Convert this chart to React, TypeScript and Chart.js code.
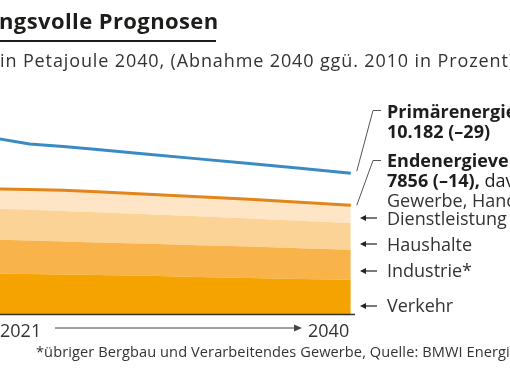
import React, { useEffect, useRef } from "react";
import { Chart, registerables } from "chart.js";
Chart.register(...registerables);

// Years on the linear x axis
const years = [2019, 2021, 2023, 2025, 2028, 2031, 2034, 2037, 2040];
// Primärenergieverbrauch (PJ)
const primaer = [12703, 12291, 12103, 11893, 11546, 11214, 10888, 10541, 10182];
// Endenergieverbrauch by sector (PJ), stacked bottom to top
const verkehr = [2915, 2885, 2856, 2827, 2762, 2675, 2596, 2538, 2480];
const industrie = [2465, 2429, 2393, 2350, 2314, 2299, 2277, 2220, 2169];
const haushalte = [2241, 2220, 2198, 2183, 2140, 2089, 2039, 1988, 1930];
const dienstleistung = [1424, 1468, 1497, 1475, 1439, 1417, 1388, 1338, 1280];

const axisLabels = ["2021", "2040"];

const FONT = '"Open Sans", sans-serif';

const xy = (vals: number[]) => vals.map((v, i) => ({ x: years[i], y: v }));

function Txt(props: { x: number; b: number; fs: number; w?: number; color?: string; ls?: number; children: React.ReactNode }) {
  const { x, b, fs, w = 400, color = "#222", ls = 0, children } = props;
  return (
    <div
      style={{
        position: "absolute",
        left: x,
        top: b - 0.888 * fs,
        fontSize: fs,
        lineHeight: `${fs}px`,
        fontWeight: w,
        letterSpacing: ls,
        whiteSpace: "nowrap",
        color,
        fontFamily: FONT,
      }}
    >
      {children}
    </div>
  );
}

const annotations = {
  id: "annotations",
  afterDraw(chart: any) {
    const ctx = chart.ctx;
    const a = chart.chartArea;
    ctx.save();
    // baseline
    ctx.strokeStyle = "#333";
    ctx.lineWidth = 1.5;
    ctx.beginPath();
    ctx.moveTo(0, a.bottom + 0.5);
    ctx.lineTo(a.right, a.bottom + 0.5);
    ctx.stroke();
    // leader lines
    ctx.strokeStyle = "#555";
    ctx.lineWidth = 1;
    const xs = chart.scales.x;
    const ys = chart.scales.y;
    const last = years.length - 1;
    const endX = xs.getPixelForValue(years[last]);
    const pY = ys.getPixelForValue(primaer[last]);
    const eY = ys.getPixelForValue(verkehr[last] + industrie[last] + haushalte[last] + dienstleistung[last]);
    ctx.beginPath();
    ctx.moveTo(endX + 6, pY - 2);
    ctx.lineTo(373, 110.5);
    ctx.lineTo(381, 110.5);
    ctx.moveTo(endX + 6, eY);
    ctx.lineTo(373, 160.5);
    ctx.lineTo(381, 160.5);
    ctx.stroke();
    // sector arrows
    ctx.strokeStyle = "#222";
    ctx.fillStyle = "#222";
    ctx.lineWidth = 1.2;
    for (const y of [218, 244, 271, 306]) {
      ctx.beginPath();
      ctx.moveTo(377, y);
      ctx.lineTo(364, y);
      ctx.stroke();
      ctx.beginPath();
      ctx.moveTo(360, y);
      ctx.lineTo(366, y - 3);
      ctx.lineTo(366, y + 3);
      ctx.closePath();
      ctx.fill();
    }
    // time arrow
    ctx.strokeStyle = "#444";
    ctx.fillStyle = "#444";
    ctx.lineWidth = 1;
    ctx.beginPath();
    ctx.moveTo(55, 328);
    ctx.lineTo(296, 328);
    ctx.stroke();
    ctx.beginPath();
    ctx.moveTo(302, 328);
    ctx.lineTo(294, 324.5);
    ctx.lineTo(294, 331.5);
    ctx.closePath();
    ctx.fill();
    ctx.restore();
  },
};

export default function App() {
  const ref = useRef<HTMLCanvasElement | null>(null);
  useEffect(() => {
    if (!ref.current) return;
    const area = (data: number[], color: string, fill: any, extra: any = {}) => ({
      data: xy(data),
      stack: "end",
      backgroundColor: color,
      borderWidth: 0,
      borderColor: "rgba(0,0,0,0)",
      pointRadius: 0,
      fill,
      tension: 0,
      ...extra,
    });
    const chart = new Chart(ref.current, {
      type: "line",
      data: {
        datasets: [
          {
            label: "Primärenergieverbrauch",
            data: xy(primaer),
            stack: "prim",
            borderColor: "#3a8ac4",
            borderWidth: 3,
            pointRadius: 0,
            fill: false,
            tension: 0,
          } as any,
          area(verkehr, "#f5a300", "origin"),
          area(industrie, "#f8b44a", "-1"),
          area(haushalte, "#fcd396", "-1"),
          area(dienstleistung, "#fde5c5", "-1", { borderColor: "#e2861c", borderWidth: 3 }),
        ],
      },
      options: {
        animation: false,
        responsive: false,
        layout: { padding: { left: 0, right: 155, top: 65, bottom: 55 } },
        plugins: { legend: { display: false }, tooltip: { enabled: false } },
        scales: {
          x: { type: "linear", min: 2019.25, max: 2040.25, display: false },
          y: { stacked: true, min: 0, max: 18000, display: false },
        },
      },
      plugins: [annotations],
    });
    return () => chart.destroy();
  }, []);

  return (
    <div style={{ position: "fixed", left: 0, top: 0, width: 510, height: 369, overflow: "hidden", background: "#fff" }}>
      <canvas ref={ref} width={510} height={369} style={{ position: "absolute", left: 0, top: 0 }} />
      <Txt x={-1} b={28.3} fs={22} w={700} ls={0.4} color="#1d1d1b">ngsvolle Prognosen</Txt>
      <div style={{ position: "absolute", left: 0, top: 40, width: 216, height: 2, background: "#1d1d1b" }} />
      <Txt x={0} b={66.7} fs={18} ls={0.88} color="#333">in Petajoule 2040, (Abnahme 2040 ggü. 2010 in Prozent)</Txt>
      <Txt x={387} b={117.5} fs={18} w={700} color="#1d1d1b">Primärenergieverbrauch</Txt>
      <Txt x={387} b={137.5} fs={18} w={700} color="#1d1d1b">10.182 (–29)</Txt>
      <Txt x={387} b={166.5} fs={18} w={700} color="#1d1d1b">Endenergieverbrauch</Txt>
      <Txt x={387} b={186.5} fs={18} color="#1d1d1b"><b>7856 (–14),</b> davon</Txt>
      <Txt x={387} b={206.5} fs={18} color="#333">Gewerbe, Handel,</Txt>
      <Txt x={387} b={224.5} fs={18} color="#333">Dienstleistung</Txt>
      <Txt x={387} b={251} fs={18} color="#333">Haushalte</Txt>
      <Txt x={387} b={277} fs={18} color="#333">Industrie*</Txt>
      <Txt x={387} b={312} fs={18} color="#333">Verkehr</Txt>
      <Txt x={0} b={336.7} fs={18} color="#333">{axisLabels[0]}</Txt>
      <Txt x={308} b={336.7} fs={18} color="#333">{axisLabels[1]}</Txt>
      <Txt x={36} b={357.3} fs={14.6} ls={0.08} color="#333">*übriger Bergbau und Verarbeitendes Gewerbe, Quelle: BMWI Energi</Txt>
    </div>
  );
}
